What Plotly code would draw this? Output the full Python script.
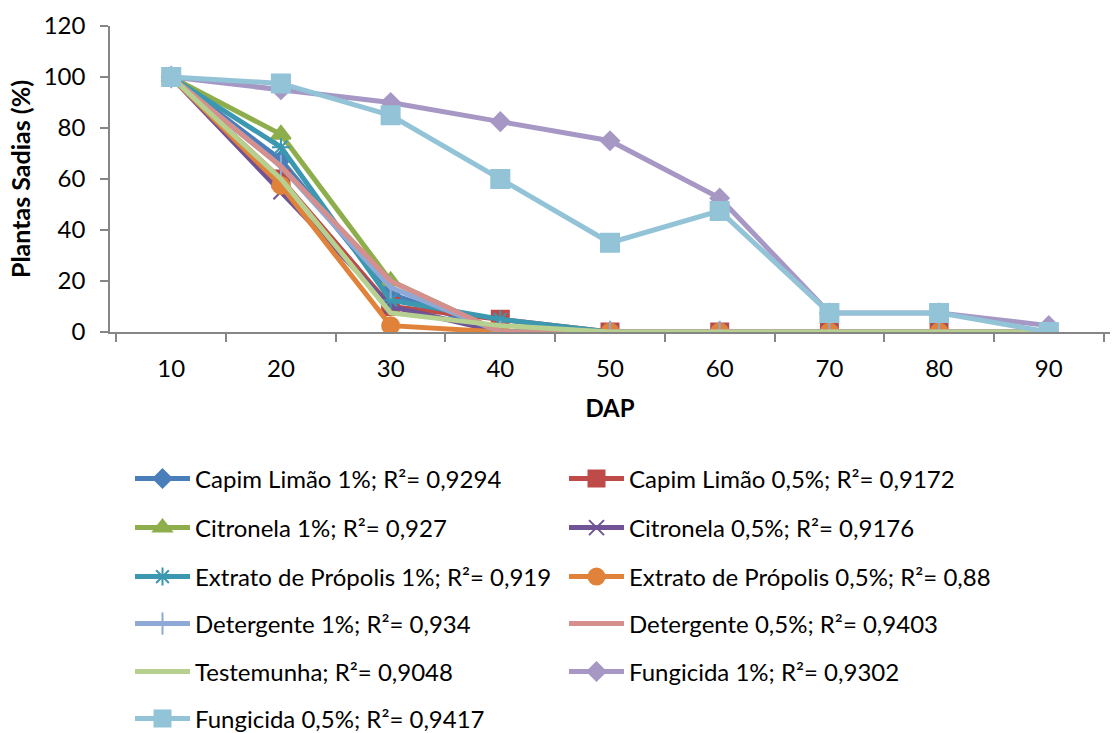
import plotly.graph_objects as go

dap = ["10", "20", "30", "40", "50", "60", "70", "80", "90"]

capim_1 = [100, 67.5, 15, 0, 0, 0, 0, 0, 0]
capim_05 = [100, 60, 10, 5, 0, 0, 0, 0, 0]
citronela_1 = [100, 77.5, 20, 0, 0, 0, 0, 0, 0]
citronela_05 = [100, 55, 10, 0, 0, 0, 0, 0, 0]
propolis_1 = [100, 72.5, 12.5, 5, 0, 0, 0, 0, 0]
propolis_05 = [100, 57.5, 2.5, 0, 0, 0, 0, 0, 0]
detergente_1 = [100, 65, 17.5, 0, 0, 0, 0, 0, 0]
detergente_05 = [100, 65, 20, 0, 0, 0, 0, 0, 0]
testemunha = [100, 60, 7.5, 2.5, 0, 0, 0, 0, 0]
fungicida_1 = [100, 95, 90, 82.5, 75, 52.5, 7.5, 7.5, 2.5]
fungicida_05 = [100, 97.5, 85, 60, 35, 47.5, 7.5, 7.5, 0]

FONT = "Lato"

# name, values, colour, marker symbol, marker size, legend row
series = [
    ("Capim Limão 1%; R²= 0,9294", capim_1, "#4A7EBB", "diamond", 14, "legend"),
    ("Capim Limão 0,5%; R²= 0,9172", capim_05, "#BE4B48", "square", 17, "legend"),
    ("Citronela 1%; R²= 0,927", citronela_1, "#8DAE4B", "triangle-up", 17, "legend2"),
    ("Citronela 0,5%; R²= 0,9176", citronela_05, "#6F5395", "x-thin-open", 15, "legend2"),
    ("Extrato de Própolis 1%; R²= 0,919", propolis_1, "#3B98B0", "asterisk-open", 15, "legend3"),
    ("Extrato de Própolis 0,5%; R²= 0,88", propolis_05, "#E0823A", "circle", 17, "legend3"),
    ("Detergente 1%; R²= 0,934", detergente_1, "#8EA9D6", "line-ns-open", 16, "legend4"),
    ("Detergente 0,5%; R²= 0,9403", detergente_05, "#D58F8C", None, 0, "legend4"),
    ("Testemunha; R²= 0,9048", testemunha, "#B6D08F", None, 0, "legend5"),
    ("Fungicida 1%; R²= 0,9302", fungicida_1, "#A697C4", "diamond", 14, "legend5"),
    ("Fungicida 0,5%; R²= 0,9417", fungicida_05, "#92C3D6", "square", 18, "legend6"),
]

fig = go.Figure()
for name, vals, color, symbol, size, leg in series:
    kw = dict(mode="lines")
    if symbol:
        kw = dict(
            mode="lines+markers",
            marker=dict(symbol=symbol, size=size, color=color,
                        line=dict(color=color, width=2)),
        )
    fig.add_trace(go.Scatter(
        x=dap, y=vals, name=name,
        line=dict(color=color, width=5),
        legend=leg, **kw,
    ))

# legend rows, two entries per row (plot area spans 306 px vertically)
rows_px = [479, 528, 577, 624, 672, 719]
legend_common = dict(
    orientation="h", x=0.020, xanchor="left", yanchor="middle",
    entrywidth=364, entrywidthmode="pixels", itemwidth=55,
    font=dict(family=FONT, size=24, color="#000000"),
    bgcolor="rgba(0,0,0,0)", borderwidth=0, traceorder="normal",
)
legend_layout = {}
for i, py in enumerate(rows_px):
    key = "legend" if i == 0 else f"legend{i + 1}"
    legend_layout[key] = dict(legend_common, y=(332 - py) / 306)

axis_common = dict(
    showline=True, linecolor="#868686", linewidth=1.5,
    ticks="outside", ticklen=8, tickcolor="#868686", tickwidth=1.5,
    showgrid=False, zeroline=False,
    tickfont=dict(family=FONT, size=24, color="#000000"),
)

fig.update_layout(
    width=1112, height=733,
    margin=dict(l=110, r=2, t=26, b=401, autoexpand=False),
    paper_bgcolor="white", plot_bgcolor="white",
    font=dict(family=FONT, size=24, color="#000000"),
    showlegend=True,
    xaxis=dict(
        axis_common,
        type="category", tickson="boundaries", ticklabelstandoff=14,
        title=dict(text="<b>DAP</b>", font=dict(family=FONT, size=24), standoff=20),
    ),
    yaxis=dict(
        axis_common,
        range=[0, 120], dtick=20, ticklabelstandoff=10,
        title=dict(text="<b>Plantas Sadias (%)</b>", font=dict(family=FONT, size=25), standoff=6),
    ),
    **legend_layout,
)

fig.write_html("out.html")
